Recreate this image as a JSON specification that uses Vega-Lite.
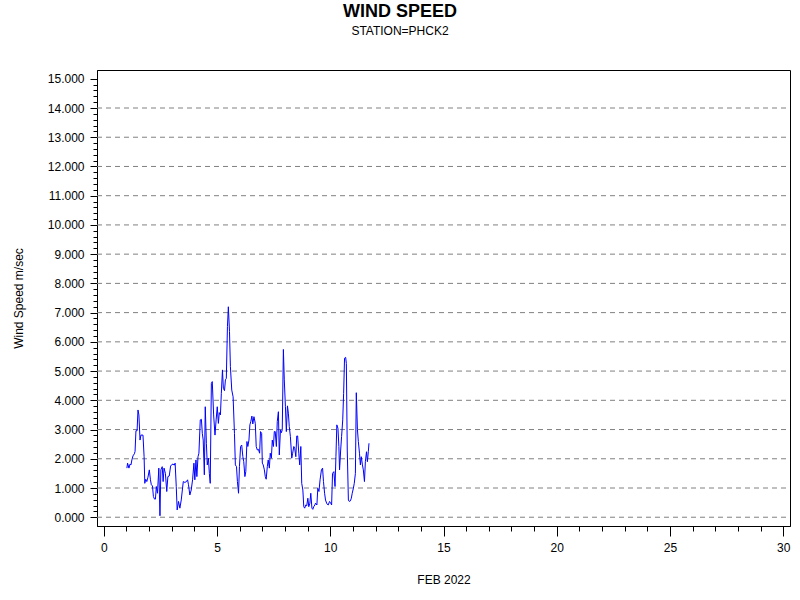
{
  "$schema": "https://vega.github.io/schema/vega-lite/v6.json",
  "autosize": {"type": "none"},
  "width": 693,
  "height": 456,
  "padding": {"left": 97, "top": 70, "right": 10, "bottom": 74},
  "background": "white",
  "title": {
    "text": "WIND SPEED",
    "subtitle": "STATION=PHCK2",
    "font": "Liberation Sans",
    "fontSize": 18,
    "fontWeight": "bold",
    "color": "black",
    "subtitleFont": "Liberation Sans",
    "subtitleFontSize": 12,
    "subtitleColor": "black",
    "subtitlePadding": 5,
    "anchor": "middle",
    "dx": -43.5,
    "offset": 33
  },
  "config": {
    "view": {"stroke": "black", "strokeWidth": 1},
    "axis": {
      "labelFont": "Liberation Sans",
      "labelFontSize": 12,
      "labelColor": "black",
      "titleFont": "Liberation Sans",
      "titleFontSize": 12,
      "titleFontWeight": "normal",
      "titleColor": "black",
      "domainColor": "black",
      "tickColor": "black",
      "grid": false
    }
  },
  "layer": [
    {
      "data": {"values": [
        {"v": 0}, {"v": 1}, {"v": 2}, {"v": 3}, {"v": 4}, {"v": 5}, {"v": 6}, {"v": 7},
        {"v": 8}, {"v": 9}, {"v": 10}, {"v": 11}, {"v": 12}, {"v": 13}, {"v": 14}
      ]},
      "mark": {"type": "rule", "color": "#808080", "strokeWidth": 1, "strokeDash": [5, 4]},
      "encoding": {
        "y": {
          "field": "v", "type": "quantitative",
          "scale": {"domain": [-0.3, 15.3], "nice": false, "zero": false},
          "axis": {
            "orient": "left", "title": null, "labels": false, "domain": false,
            "tickSize": 4,
            "values": [0,0.2,0.4,0.6,0.8,1,1.2,1.4,1.6,1.8,2,2.2,2.4,2.6,2.8,3,3.2,3.4,3.6,3.8,4,4.2,4.4,4.6,4.8,5,5.2,5.4,5.6,5.8,6,6.2,6.4,6.6,6.8,7,7.2,7.4,7.6,7.8,8,8.2,8.4,8.6,8.8,9,9.2,9.4,9.6,9.8,10,10.2,10.4,10.6,10.8,11,11.2,11.4,11.6,11.8,12,12.2,12.4,12.6,12.8,13,13.2,13.4,13.6,13.8,14,14.2,14.4,14.6,14.8,15]
          }
        },
        "x": {
          "datum": -0.3, "type": "quantitative",
          "scale": {"domain": [-0.3, 30.3], "nice": false, "zero": false},
          "axis": {
            "orient": "bottom", "title": null, "labels": false, "domain": false,
            "tickSize": 5,
            "values": [0,1,2,3,4,5,6,7,8,9,10,11,12,13,14,15,16,17,18,19,20,21,22,23,24,25,26,27,28,29,30]
          }
        },
        "x2": {"datum": 30.3}
      }
    },
    {
      "data": {"values": [
        {"day": 1.02, "speed": 1.68}, {"day": 1.05, "speed": 1.85}, {"day": 1.11, "speed": 1.68},
        {"day": 1.16, "speed": 1.82}, {"day": 1.20, "speed": 1.79}, {"day": 1.24, "speed": 1.96},
        {"day": 1.29, "speed": 2.10}, {"day": 1.35, "speed": 2.17}, {"day": 1.38, "speed": 2.25},
        {"day": 1.42, "speed": 2.96}, {"day": 1.47, "speed": 2.96}, {"day": 1.51, "speed": 3.67},
        {"day": 1.55, "speed": 3.50}, {"day": 1.60, "speed": 2.64}, {"day": 1.64, "speed": 2.81},
        {"day": 1.73, "speed": 2.81}, {"day": 1.78, "speed": 2.07}, {"day": 1.81, "speed": 1.16},
        {"day": 1.85, "speed": 1.30}, {"day": 1.90, "speed": 1.22}, {"day": 1.95, "speed": 1.37},
        {"day": 2.01, "speed": 1.62}, {"day": 2.06, "speed": 1.28}, {"day": 2.10, "speed": 1.11},
        {"day": 2.15, "speed": 1.07}, {"day": 2.19, "speed": 0.71}, {"day": 2.24, "speed": 0.62},
        {"day": 2.28, "speed": 0.62}, {"day": 2.32, "speed": 1.05}, {"day": 2.37, "speed": 0.82},
        {"day": 2.43, "speed": 1.68}, {"day": 2.48, "speed": 0.05}, {"day": 2.52, "speed": 1.62},
        {"day": 2.58, "speed": 1.73}, {"day": 2.62, "speed": 1.22}, {"day": 2.66, "speed": 1.68},
        {"day": 2.72, "speed": 1.50}, {"day": 2.78, "speed": 0.88}, {"day": 2.83, "speed": 1.39},
        {"day": 2.89, "speed": 1.41}, {"day": 2.95, "speed": 1.75}, {"day": 3.00, "speed": 1.80},
        {"day": 3.06, "speed": 1.82}, {"day": 3.11, "speed": 1.78}, {"day": 3.15, "speed": 1.85},
        {"day": 3.20, "speed": 1.05}, {"day": 3.24, "speed": 0.25}, {"day": 3.30, "speed": 0.54},
        {"day": 3.36, "speed": 0.31}, {"day": 3.42, "speed": 0.59}, {"day": 3.51, "speed": 1.22},
        {"day": 3.58, "speed": 1.19}, {"day": 3.65, "speed": 1.22}, {"day": 3.70, "speed": 1.28},
        {"day": 3.74, "speed": 1.11}, {"day": 3.80, "speed": 0.76}, {"day": 3.86, "speed": 0.93},
        {"day": 3.92, "speed": 1.28}, {"day": 3.98, "speed": 1.85}, {"day": 4.02, "speed": 1.28},
        {"day": 4.07, "speed": 1.96}, {"day": 4.11, "speed": 1.39}, {"day": 4.16, "speed": 2.07},
        {"day": 4.20, "speed": 2.19}, {"day": 4.26, "speed": 3.33}, {"day": 4.31, "speed": 3.35},
        {"day": 4.35, "speed": 2.87}, {"day": 4.39, "speed": 2.64}, {"day": 4.44, "speed": 1.45},
        {"day": 4.48, "speed": 3.78}, {"day": 4.53, "speed": 2.53}, {"day": 4.57, "speed": 1.79},
        {"day": 4.62, "speed": 2.02}, {"day": 4.66, "speed": 1.50}, {"day": 4.70, "speed": 1.16},
        {"day": 4.75, "speed": 4.58}, {"day": 4.79, "speed": 4.64}, {"day": 4.85, "speed": 3.50},
        {"day": 4.91, "speed": 2.81}, {"day": 4.96, "speed": 3.33}, {"day": 5.01, "speed": 3.78},
        {"day": 5.06, "speed": 3.21}, {"day": 5.10, "speed": 3.58}, {"day": 5.15, "speed": 3.50},
        {"day": 5.19, "speed": 4.24}, {"day": 5.24, "speed": 5.04}, {"day": 5.28, "speed": 4.41},
        {"day": 5.33, "speed": 4.33}, {"day": 5.37, "speed": 4.70}, {"day": 5.41, "speed": 4.75},
        {"day": 5.46, "speed": 6.52}, {"day": 5.50, "speed": 7.20}, {"day": 5.55, "speed": 6.35},
        {"day": 5.59, "speed": 5.15}, {"day": 5.65, "speed": 4.35}, {"day": 5.71, "speed": 4.12},
        {"day": 5.77, "speed": 2.87}, {"day": 5.81, "speed": 1.79}, {"day": 5.86, "speed": 1.73},
        {"day": 5.90, "speed": 1.22}, {"day": 5.95, "speed": 0.82}, {"day": 5.99, "speed": 1.73},
        {"day": 6.04, "speed": 2.42}, {"day": 6.09, "speed": 2.47}, {"day": 6.14, "speed": 2.07},
        {"day": 6.18, "speed": 1.90}, {"day": 6.23, "speed": 1.39}, {"day": 6.27, "speed": 1.56},
        {"day": 6.32, "speed": 2.59}, {"day": 6.36, "speed": 2.42}, {"day": 6.41, "speed": 2.64},
        {"day": 6.45, "speed": 3.16}, {"day": 6.49, "speed": 3.27}, {"day": 6.54, "speed": 3.46},
        {"day": 6.58, "speed": 3.19}, {"day": 6.63, "speed": 3.44}, {"day": 6.69, "speed": 3.21},
        {"day": 6.73, "speed": 2.42}, {"day": 6.78, "speed": 2.30}, {"day": 6.83, "speed": 2.32},
        {"day": 6.88, "speed": 2.19}, {"day": 6.92, "speed": 2.93}, {"day": 6.97, "speed": 2.87},
        {"day": 7.00, "speed": 1.85}, {"day": 7.04, "speed": 1.79}, {"day": 7.09, "speed": 1.62},
        {"day": 7.13, "speed": 1.39}, {"day": 7.17, "speed": 1.30}, {"day": 7.22, "speed": 1.73},
        {"day": 7.26, "speed": 1.96}, {"day": 7.31, "speed": 1.68}, {"day": 7.35, "speed": 2.19},
        {"day": 7.40, "speed": 2.02}, {"day": 7.44, "speed": 2.64}, {"day": 7.49, "speed": 2.42},
        {"day": 7.53, "speed": 2.93}, {"day": 7.57, "speed": 2.93}, {"day": 7.62, "speed": 2.42},
        {"day": 7.66, "speed": 3.27}, {"day": 7.71, "speed": 3.61}, {"day": 7.75, "speed": 2.13},
        {"day": 7.80, "speed": 2.99}, {"day": 7.84, "speed": 2.89}, {"day": 7.88, "speed": 2.99},
        {"day": 7.93, "speed": 5.74}, {"day": 7.97, "speed": 4.70}, {"day": 8.02, "speed": 3.78},
        {"day": 8.06, "speed": 2.93}, {"day": 8.11, "speed": 3.81}, {"day": 8.15, "speed": 3.56},
        {"day": 8.19, "speed": 3.10}, {"day": 8.24, "speed": 2.76}, {"day": 8.30, "speed": 2.02},
        {"day": 8.34, "speed": 2.19}, {"day": 8.39, "speed": 2.42}, {"day": 8.43, "speed": 2.36},
        {"day": 8.48, "speed": 2.07}, {"day": 8.52, "speed": 2.78}, {"day": 8.56, "speed": 2.78},
        {"day": 8.61, "speed": 2.19}, {"day": 8.65, "speed": 1.79}, {"day": 8.70, "speed": 2.42},
        {"day": 8.74, "speed": 1.16}, {"day": 8.79, "speed": 0.93}, {"day": 8.83, "speed": 0.36},
        {"day": 8.87, "speed": 0.31}, {"day": 8.92, "speed": 0.42}, {"day": 8.96, "speed": 0.39},
        {"day": 9.01, "speed": 0.65}, {"day": 9.05, "speed": 0.36}, {"day": 9.10, "speed": 0.48},
        {"day": 9.14, "speed": 0.82}, {"day": 9.19, "speed": 0.31}, {"day": 9.23, "speed": 0.27},
        {"day": 9.27, "speed": 0.36}, {"day": 9.32, "speed": 0.42}, {"day": 9.35, "speed": 0.48},
        {"day": 9.41, "speed": 0.42}, {"day": 9.45, "speed": 0.99}, {"day": 9.50, "speed": 0.88},
        {"day": 9.55, "speed": 1.28}, {"day": 9.61, "speed": 1.62}, {"day": 9.66, "speed": 1.68},
        {"day": 9.70, "speed": 1.22}, {"day": 9.75, "speed": 0.82}, {"day": 9.79, "speed": 0.59},
        {"day": 9.85, "speed": 0.46}, {"day": 9.91, "speed": 0.42}, {"day": 9.97, "speed": 0.54},
        {"day": 10.01, "speed": 0.50}, {"day": 10.06, "speed": 0.42}, {"day": 10.10, "speed": 1.50},
        {"day": 10.16, "speed": 1.56}, {"day": 10.21, "speed": 1.05}, {"day": 10.25, "speed": 2.07},
        {"day": 10.29, "speed": 3.16}, {"day": 10.34, "speed": 3.04}, {"day": 10.38, "speed": 2.42},
        {"day": 10.41, "speed": 1.62}, {"day": 10.46, "speed": 2.30}, {"day": 10.50, "speed": 2.76},
        {"day": 10.55, "speed": 3.33}, {"day": 10.59, "speed": 4.24}, {"day": 10.63, "speed": 5.44},
        {"day": 10.68, "speed": 5.47}, {"day": 10.71, "speed": 5.26}, {"day": 10.75, "speed": 2.30},
        {"day": 10.80, "speed": 0.59}, {"day": 10.84, "speed": 0.54}, {"day": 10.89, "speed": 0.56},
        {"day": 10.93, "speed": 0.65}, {"day": 10.97, "speed": 0.82}, {"day": 11.02, "speed": 0.99},
        {"day": 11.06, "speed": 1.16}, {"day": 11.11, "speed": 1.50}, {"day": 11.15, "speed": 4.26},
        {"day": 11.20, "speed": 2.99}, {"day": 11.24, "speed": 2.59}, {"day": 11.29, "speed": 2.19},
        {"day": 11.33, "speed": 1.79}, {"day": 11.37, "speed": 2.07}, {"day": 11.42, "speed": 1.79},
        {"day": 11.46, "speed": 1.62}, {"day": 11.51, "speed": 1.22}, {"day": 11.55, "speed": 1.90},
        {"day": 11.60, "speed": 2.24}, {"day": 11.64, "speed": 1.90}, {"day": 11.68, "speed": 2.24},
        {"day": 11.71, "speed": 2.53}
      ]},
      "mark": {"type": "line", "color": "#0000ff", "strokeWidth": 1},
      "encoding": {
        "x": {
          "field": "day", "type": "quantitative",
          "scale": {"domain": [-0.3, 30.3], "nice": false, "zero": false},
          "axis": {
            "orient": "bottom", "title": "FEB 2022",
            "values": [0, 5, 10, 15, 20, 25, 30], "format": "d",
            "tickSize": 10, "labelPadding": 6, "titlePadding": 21
          }
        },
        "y": {
          "field": "speed", "type": "quantitative",
          "scale": {"domain": [-0.3, 15.3], "nice": false, "zero": false},
          "axis": {
            "orient": "left", "title": "Wind Speed m/sec",
            "values": [0, 1, 2, 3, 4, 5, 6, 7, 8, 9, 10, 11, 12, 13, 14, 15], "format": ".3f",
            "tickSize": 7, "labelPadding": 6, "titlePadding": 22
          }
        }
      }
    }
  ],
  "resolve": {"axis": {"x": "independent", "y": "independent"}}
}
